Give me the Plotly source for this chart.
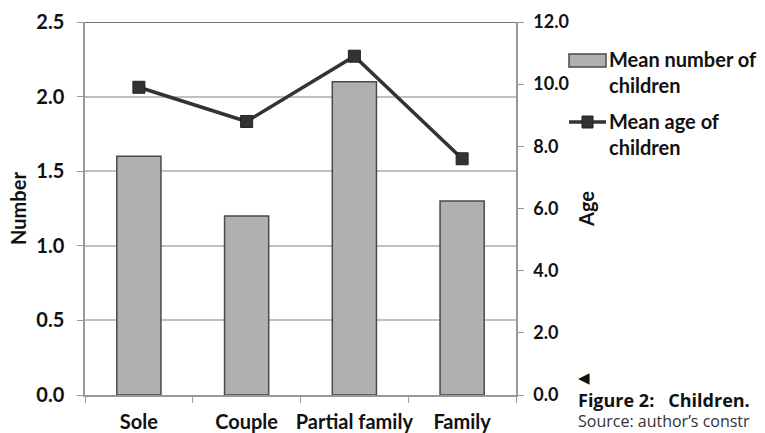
import plotly.graph_objects as go

# Household types and their child statistics
categories = ["Sole", "Couple", "Partial family", "Family"]
mean_children = [1.6, 1.2, 2.1, 1.3]
mean_age = [9.9, 8.8, 10.9, 7.6]

left_ticks = [0.0, 0.5, 1.0, 1.5, 2.0, 2.5]
right_ticks = [0.0, 2.0, 4.0, 6.0, 8.0, 10.0, 12.0]

FONT = "Lato"
BAR_FILL = "#b0b0b0"
BAR_EDGE = "#4a4a4a"
LINE_COL = "#333333"

fig = go.Figure()

fig.add_trace(go.Bar(
    x=categories, y=mean_children, name="Mean number of children",
    marker=dict(color=BAR_FILL, line=dict(color=BAR_EDGE, width=1.5)),
    width=0.41, showlegend=False,
))

fig.add_trace(go.Scatter(
    x=categories, y=mean_age, name="Mean age of children", yaxis="y2",
    mode="lines+markers",
    line=dict(color=LINE_COL, width=3.5),
    marker=dict(symbol="square", size=12, color=LINE_COL,
                line=dict(color="#222222", width=1)),
    showlegend=False,
))

bold_font = dict(family=FONT, size=20, color="#111111", weight="bold")

fig.update_layout(
    width=765, height=433,
    margin=dict(l=85, r=249, t=22, b=38),
    paper_bgcolor="white", plot_bgcolor="white",
    font=dict(family=FONT, size=20, color="#111111"),
    xaxis=dict(
        type="category", tickson="boundaries", ticks="outside", ticklen=6,
        tickcolor="#999999", showline=True, linecolor="#999999", linewidth=1.5,
        showgrid=False, tickfont=bold_font, ticklabelstandoff=8,
        tickangle=0, automargin=False,
    ),
    yaxis=dict(
        range=[0, 2.5], tickvals=left_ticks,
        ticktext=[f"{v:.1f}" for v in left_ticks],
        ticks="outside", ticklen=6, tickcolor="#999999",
        showline=True, linecolor="#999999", linewidth=1.5,
        showgrid=True, gridcolor="#c0c0c0", gridwidth=1.5,
        zeroline=False, tickfont=bold_font, ticklabelstandoff=9,
        automargin=False,
        title=dict(text="<b>Number</b>", font=dict(family=FONT, size=20), standoff=4),
    ),
    yaxis2=dict(
        range=[0, 12], tickvals=right_ticks,
        ticktext=[f"{v:.1f}" for v in right_ticks],
        overlaying="y", side="right",
        ticks="outside", ticklen=6, tickcolor="#999999",
        showline=True, linecolor="#999999", linewidth=1.5,
        showgrid=False, zeroline=False,
        tickfont=dict(family=FONT, size=18, color="#111111", weight="bold"),
        ticklabelstandoff=6, automargin=False,
        title=dict(text="<b>Age</b>", font=dict(family=FONT, size=20), standoff=12),
    ),
)

# darker frame line along the top of the plot area
fig.add_shape(type="line", xref="paper", yref="y", x0=0, x1=1, y0=2.5, y1=2.5,
              line=dict(color="#444444", width=1.5))

# legend drawn by hand: wide bar swatch and line-with-marker swatch
fig.add_shape(type="rect", xref="paper", yref="paper",
              x0=(569 - 85) / 431, x1=(606 - 85) / 431,
              y0=(395 - 67) / 373, y1=(395 - 54) / 373,
              fillcolor=BAR_FILL, line=dict(color=BAR_EDGE, width=1.5))
fig.add_shape(type="line", xref="paper", yref="paper",
              x0=(569 - 85) / 431, x1=(606 - 85) / 431,
              y0=(395 - 122) / 373, y1=(395 - 122) / 373,
              line=dict(color=LINE_COL, width=3.5))
fig.add_shape(type="rect", xref="paper", yref="paper",
              x0=(582 - 85) / 431, x1=(593 - 85) / 431,
              y0=(395 - 128) / 373, y1=(395 - 116) / 373,
              fillcolor=LINE_COL, line=dict(color="#222222", width=1))

legend_font = dict(family=FONT, size=20, color="#111111")
for txt, ytop in [("<b>Mean number of<br>children</b>", 45),
                  ("<b>Mean age of<br>children</b>", 107)]:
    fig.add_annotation(text=txt, xref="paper", yref="paper",
                       x=(607 - 85) / 431, y=(395 - ytop) / 373,
                       xanchor="left", yanchor="top", align="left",
                       showarrow=False, font=legend_font)

# figure caption
fig.add_annotation(text="◀", xref="paper", yref="paper",
                   x=(576 - 85) / 431, y=(395 - 378) / 373,
                   xanchor="left", yanchor="middle", showarrow=False,
                   font=dict(family="DejaVu Sans", size=15, color="#111111"))
fig.add_annotation(text="<b>Figure 2:   Children.</b>", xref="paper", yref="paper",
                   x=(576 - 85) / 431, y=(395 - 400) / 373,
                   xanchor="left", yanchor="middle", showarrow=False,
                   font=dict(family="Open Sans", size=18, color="#111111"))
fig.add_annotation(text="Source: author’s constr", xref="paper", yref="paper",
                   x=(576 - 85) / 431, y=(395 - 421) / 373,
                   xanchor="left", yanchor="middle", showarrow=False,
                   font=dict(family="Open Sans", size=16, color="#333333"))

fig.write_html("out.html")
